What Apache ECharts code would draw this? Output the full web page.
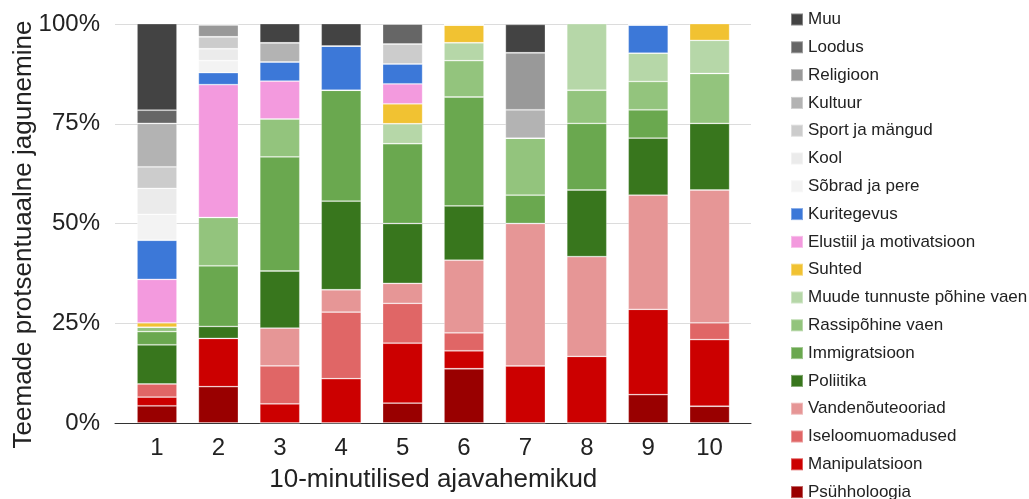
<!DOCTYPE html>
<html>
<head>
<meta charset="utf-8">
<script src="https://cdn.jsdelivr.net/npm/echarts@6/dist/echarts.min.js"></script>
<style>
  html, body { margin: 0; padding: 0; background: #fff; }
  #chart { width: 1029px; height: 499px; }
</style>
</head>
<body>
<div id="chart"></div>
<script>
// Categories (10-minute intervals)
const categories = ['1', '2', '3', '4', '5', '6', '7', '8', '9', '10'];
const yTickLabels = ['0%', '25%', '50%', '75%', '100%'];

// Series values (% of topics per interval), bottom of stack first
const psuhholoogia   = [4.3, 9.1, 0, 0, 5.0, 13.6, 0, 0, 7.1, 4.2];
const manipulatsioon = [2.2, 12.1, 4.8, 11.1, 15.0, 4.5, 14.3, 16.7, 21.4, 16.7];
const iseloomu       = [3.3, 0, 9.5, 16.7, 10.0, 4.5, 0, 0, 0, 4.2];
const vandenou       = [0, 0, 9.5, 5.6, 5.0, 18.2, 35.7, 25.0, 28.6, 33.3];
const poliitika      = [9.8, 3.0, 14.3, 22.2, 15.0, 13.6, 0, 16.7, 14.3, 16.7];
const immigratsioon  = [3.3, 15.2, 28.6, 27.8, 20.0, 27.3, 7.1, 16.7, 7.1, 0];
const rassipohine    = [1.1, 12.1, 9.5, 0, 0, 9.1, 14.3, 8.3, 7.1, 12.5];
const muudeTunnuste  = [0, 0, 0, 0, 5.0, 4.5, 0, 16.7, 7.1, 8.3];
const suhted         = [1.1, 0, 0, 0, 5.0, 4.5, 0, 0, 0, 4.2];
const elustiil       = [10.9, 33.3, 9.5, 0, 5.0, 0, 0, 0, 0, 0];
const kuritegevus    = [9.8, 3.0, 4.8, 11.1, 5.0, 0, 0, 0, 7.1, 0];
const sobradPere     = [6.5, 3.0, 0, 0, 0, 0, 0, 0, 0, 0];
const kool           = [6.5, 3.0, 0, 0, 0, 0, 0, 0, 0, 0];
const sportMangud    = [5.4, 3.0, 0, 0, 5.0, 0, 0, 0, 0, 0];
const kultuur        = [10.9, 0, 4.8, 0, 0, 0, 7.1, 0, 0, 0];
const religioon      = [0, 3.0, 0, 0, 0, 0, 14.3, 0, 0, 0];
const loodus         = [3.3, 0, 0, 0, 5.0, 0, 0, 0, 0, 0];
const muu            = [21.7, 0, 4.8, 5.6, 0, 0, 7.1, 0, 0, 0];

const seriesDefs = [
  ['Psühholoogia', psuhholoogia, '#990000'],
  ['Manipulatsioon', manipulatsioon, '#cc0000'],
  ['Iseloomuomadused', iseloomu, '#e06666'],
  ['Vandenõuteooriad', vandenou, '#e69696'],
  ['Poliitika', poliitika, '#38761d'],
  ['Immigratsioon', immigratsioon, '#6aa84f'],
  ['Rassipõhine vaen', rassipohine, '#93c47d'],
  ['Muude tunnuste põhine vaen', muudeTunnuste, '#b6d7a8'],
  ['Suhted', suhted, '#f1c232'],
  ['Elustiil ja motivatsioon', elustiil, '#f39ade'],
  ['Kuritegevus', kuritegevus, '#3c78d8'],
  ['Sõbrad ja pere', sobradPere, '#f3f3f3'],
  ['Kool', kool, '#ebebeb'],
  ['Sport ja mängud', sportMangud, '#cccccc'],
  ['Kultuur', kultuur, '#b3b3b3'],
  ['Religioon', religioon, '#999999'],
  ['Loodus', loodus, '#666666'],
  ['Muu', muu, '#434343']
];

const FONT = "'Liberation Sans', Arial, sans-serif";
const chart = echarts.init(document.getElementById('chart'), null, { renderer: 'canvas' });

const series = seriesDefs.map(([name, data, color]) => ({
  name: name,
  type: 'bar',
  stack: 'total',
  xAxisIndex: 1,
  yAxisIndex: 1,
  barWidth: 40,
  data: data,
  itemStyle: { color: color, borderColor: 'rgba(255,255,255,0.35)', borderWidth: 0.8 },
  emphasis: { disabled: true }
}));

const option = {
  animation: false,
  textStyle: { fontFamily: FONT },
  legend: {
    orient: 'vertical',
    left: 785,
    top: 6,
    height: 560,
    icon: 'rect',
    itemWidth: 12,
    itemHeight: 12,
    itemGap: 10.8,
    itemTextGap: 10,
    textStyle: { fontSize: 17, color: '#222', fontFamily: FONT },
    data: seriesDefs.map(d => d[0]).reverse()
  },
  grid: [
    { left: 115, top: 24, width: 636, height: 399, containLabel: false, outerBoundsMode: 'none' },
    { left: 126.3, top: 24, width: 614, height: 399, containLabel: false, outerBoundsMode: 'none' }
  ],
  xAxis: [
    {
      type: 'value', gridIndex: 0, min: 0, max: 1,
      axisLine: { show: true, onZero: false, lineStyle: { color: '#333', width: 1 } },
      axisTick: { show: false }, axisLabel: { show: false }, splitLine: { show: false }
    },
    {
      type: 'category', gridIndex: 1, data: categories,
      axisLine: { show: false }, axisTick: { show: false },
      axisLabel: { fontSize: 24, color: '#222', margin: 13, fontFamily: FONT },
      name: '10-minutilised ajavahemikud',
      nameLocation: 'middle', nameGap: 44, nameMoveOverlap: false,
      nameTextStyle: { fontSize: 26, color: '#222', fontFamily: FONT }
    }
  ],
  yAxis: [
    {
      type: 'value', gridIndex: 0, min: 0, max: 100, interval: 25,
      axisLine: { show: false }, axisTick: { show: false },
      axisLabel: {
        fontSize: 24, color: '#222', margin: 15, fontFamily: FONT,
        formatter: (v) => yTickLabels[Math.round(v / 25)]
      },
      splitLine: { show: true, lineStyle: { color: '#dcdcdc', width: 1 } },
      name: 'Teemade protsentuaalne jagunemine',
      nameLocation: 'middle', nameGap: 78, nameMoveOverlap: false,
      nameTextStyle: { fontSize: 26, color: '#222', fontFamily: FONT, padding: [0, 22, 0, 0] }
    },
    {
      type: 'value', gridIndex: 1, min: 0, max: 100, interval: 25,
      show: false
    }
  ],
  series: series
};

chart.setOption(option);
</script>
</body>
</html>
